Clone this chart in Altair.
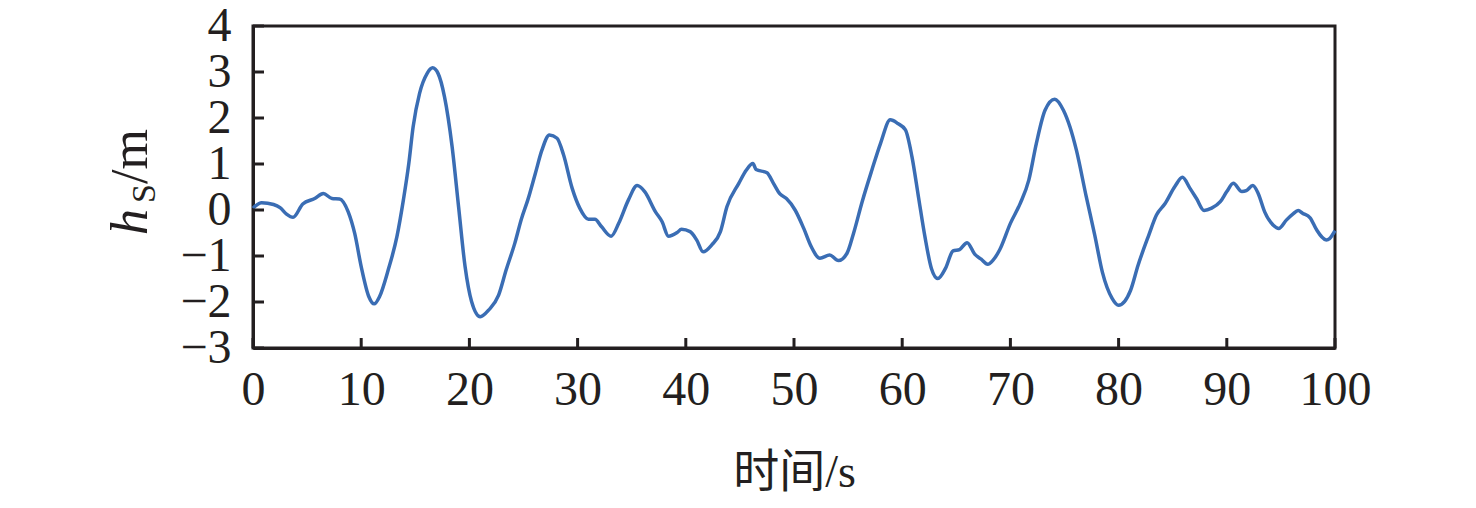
import altair as alt
import pandas as pd

# time (s)
t = [0, 0.8, 1.9, 2.5, 3.1, 3.7, 4.6, 5.7, 6.5, 7.3, 8.0, 8.8, 9.4, 10.0, 10.7, 11.2, 11.7,
     12.5, 13.3, 13.9, 14.4, 14.8, 15.4, 16.1, 16.6, 17.1, 17.7, 18.4, 19.0, 19.6, 20.2,
     21.0, 21.8, 22.7, 23.4, 24.2, 24.8, 25.4, 26.1, 26.7, 27.4, 28.1, 28.7, 29.5, 30.2,
     31.0, 31.6, 32.2, 33.1, 33.8, 34.7, 35.5, 36.2, 37.2, 37.8, 38.4, 39.2, 39.6, 40.4,
     41.0, 41.6, 42.4, 43.2, 43.8, 44.9, 45.6, 46.2, 46.5, 47.5, 48.1, 48.7, 49.3, 50.1,
     50.9, 51.6, 52.4, 53.3, 54.1, 54.9, 55.5, 56.3, 57.2, 58.0, 58.9, 59.6, 60.3, 60.9,
     61.5, 62.1, 62.7, 63.3, 64.0, 64.7, 65.3, 66.0, 66.7, 67.3, 67.9, 68.4, 69.0, 70.0,
     70.9, 71.7, 72.4, 73.2, 74.1, 74.9, 75.5, 76.1, 77.0, 77.8, 78.5, 79.4, 80.0, 81.1,
     81.8, 82.8, 83.5, 84.3, 85.2, 85.9, 86.6, 87.2, 87.9, 88.6, 89.4, 90.0, 90.6, 91.4,
     91.8, 92.4, 92.9, 93.5, 94.3, 94.8, 95.5, 96.1, 96.6, 97.0, 97.7, 98.3, 99.2, 99.5, 100]

# wave height h_S (m)
hs = [0.04, 0.16, 0.12, 0.05, -0.09, -0.16, 0.13, 0.25, 0.36, 0.25, 0.24, -0.04, -0.51, -1.23,
      -1.88, -2.04, -1.88, -1.30, -0.58, 0.22, 1.01, 1.81, 2.54, 2.97, 3.09, 2.97, 2.46, 1.38,
      0.07, -1.23, -1.99, -2.32, -2.17, -1.85, -1.30, -0.72, -0.20, 0.22, 0.80, 1.30, 1.63,
      1.56, 1.20, 0.47, 0.04, -0.20, -0.20, -0.36, -0.57, -0.29, 0.22, 0.53, 0.40, -0.04,
      -0.25, -0.57, -0.49, -0.42, -0.47, -0.65, -0.91, -0.76, -0.47, 0.07, 0.58, 0.87, 1.01,
      0.88, 0.81, 0.58, 0.35, 0.25, 0.0, -0.40, -0.80, -1.05, -0.98, -1.10, -0.94, -0.51,
      0.18, 0.87, 1.45, 1.96, 1.88, 1.74, 1.16, 0.29, -0.58, -1.27, -1.49, -1.27, -0.89,
      -0.86, -0.71, -0.96, -1.07, -1.18, -1.09, -0.87, -0.29, 0.14, 0.65, 1.45, 2.17, 2.41,
      2.17, 1.81, 1.30, 0.30, -0.55, -1.35, -1.92, -2.07, -1.75, -1.20, -0.54, -0.11, 0.14,
      0.51, 0.71, 0.47, 0.25, -0.01, 0.04, 0.18, 0.40, 0.58, 0.40, 0.42, 0.53, 0.36, -0.04,
      -0.33, -0.40, -0.22, -0.09, -0.01, -0.07, -0.17, -0.43, -0.65, -0.62, -0.45]

x_ticks = [0, 10, 20, 30, 40, 50, 60, 70, 80, 90, 100]
y_ticks = [-3, -2, -1, 0, 1, 2, 3, 4]

W, H = 1082, 322
INK = "#231f20"
SERIF = "Liberation Serif"

df = pd.DataFrame({"t": t, "hs": hs})
xs = alt.Scale(domain=[0, 100], nice=False, zero=False)
ys = alt.Scale(domain=[-3, 4], nice=False, zero=False)

x_axis = alt.Axis(values=x_ticks, ticks=False, grid=False, domainColor=INK, domainWidth=3,
                  labelFont=SERIF, labelFontSize=48, labelColor=INK, labelPadding=18,
                  labelFlush=False, labelOverlap=False, title="时间/s",
                  titleFont="Liberation Serif, Noto Sans CJK SC", titleFontSize=46,
                  titleFontWeight="normal", titleColor=INK, titleY=124,
                  titleBaseline="middle")
y_axis = alt.Axis(values=y_ticks, ticks=False, grid=False, domainColor=INK, domainWidth=3,
                  labelFont=SERIF, labelFontSize=48, labelColor=INK, labelPadding=22,
                  labelFlush=False, labelOverlap=False, title=None)

line = alt.Chart(df).mark_line(color="#3a6db4", strokeWidth=3.5, interpolate="monotone").encode(
    x=alt.X("t:Q", scale=xs, axis=x_axis),
    y=alt.Y("hs:Q", scale=ys, axis=y_axis),
)

ydf = pd.DataFrame({"yv": y_ticks})
ytick = alt.Chart(ydf).mark_rule(color=INK, strokeWidth=3).encode(
    y=alt.Y("yv:Q", scale=ys, axis=y_axis), x=alt.value(0), x2=alt.value(11))

xdf = pd.DataFrame({"xv": x_ticks})
xtick = alt.Chart(xdf).mark_rule(color=INK, strokeWidth=3).encode(
    x=alt.X("xv:Q", scale=xs, axis=x_axis), y=alt.value(H), y2=alt.value(H - 10))

ttl_h = alt.Chart(pd.DataFrame({"s": ["h"]})).mark_text(
    font=SERIF, fontSize=52, fontStyle="italic", angle=270, align="left", baseline="alphabetic",
    color=INK).encode(text="s:N", x=alt.value(-106), y=alt.value(209))
ttl_s = alt.Chart(pd.DataFrame({"s": ["S"]})).mark_text(
    font=SERIF, fontSize=34, angle=270, align="left", baseline="alphabetic",
    color=INK).encode(text="s:N", x=alt.value(-98), y=alt.value(177))
ttl_m = alt.Chart(pd.DataFrame({"s": ["/m"]})).mark_text(
    font=SERIF, fontSize=52, angle=270, align="left", baseline="alphabetic",
    color=INK).encode(text="s:N", x=alt.value(-106), y=alt.value(158))

chart = alt.layer(line, ytick, xtick, ttl_h, ttl_s, ttl_m).properties(
    width=W, height=H,
    autosize=alt.AutoSizeParams(type="none"),
    padding={"left": 245, "top": 18, "right": 130, "bottom": 150},
).configure(background="white").configure_view(stroke=INK, strokeWidth=3)

chart.save("out.html", embed_options={"renderer": "svg", "actions": False})
